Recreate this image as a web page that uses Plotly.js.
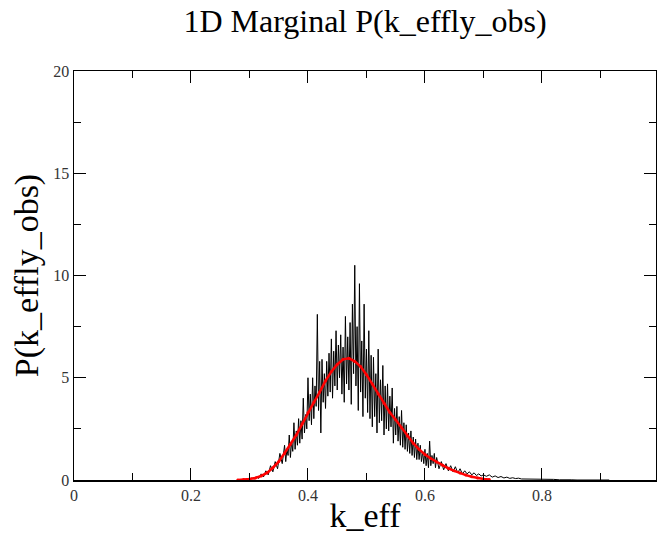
<!DOCTYPE html>
<html>
<head>
<meta charset="utf-8">
<script src="https://cdn.plot.ly/plotly-3.0.1.min.js"></script>
<style>html,body{margin:0;padding:0;background:#fff;}#chart{width:657px;height:537px;}</style>
</head>
<body>
<div id="chart"></div>
<script>
// Black noisy histogram: k_eff values and density
const histX = [0.284,0.288,0.292,0.296,0.300,0.304,0.308,0.312,0.316,0.320,0.324,0.328,0.332,0.336,0.340,0.344,0.348,0.352,0.356,
0.360,0.362,0.364,0.366,0.368,0.370,0.372,0.374,0.376,0.378,0.380,0.382,0.384,0.386,0.388,0.390,0.392,0.394,0.396,0.398,
0.400,0.402,0.404,0.406,0.408,0.410,0.412,0.414,0.416,0.418,0.420,0.422,0.424,0.426,0.428,0.430,0.432,0.434,0.436,0.438,
0.440,0.442,0.444,0.446,0.448,0.450,0.452,0.454,0.456,0.458,0.460,0.462,0.464,0.466,0.468,0.470,0.472,0.474,0.476,0.478,
0.480,0.482,0.484,0.486,0.488,0.490,0.492,0.494,0.496,0.498,0.500,0.502,0.504,0.506,0.508,0.510,0.512,0.514,0.516,0.518,
0.520,0.522,0.524,0.526,0.528,0.530,0.532,0.534,0.536,0.538,0.540,0.542,0.544,0.546,0.548,0.550,0.552,0.554,0.556,0.558,
0.560,0.562,0.564,0.566,0.568,0.570,0.572,0.574,0.576,0.578,0.580,0.582,0.584,0.586,0.588,0.590,0.592,0.594,0.596,0.598,
0.600,0.602,0.604,0.606,0.608,0.610,0.612,0.614,0.616,0.618,0.620,
0.624,0.628,0.632,0.636,0.640,0.644,0.648,0.652,0.656,0.660,0.664,0.668,0.672,0.676,0.680,0.684,0.688,0.692,0.696,0.700,
0.705,0.710,0.715,0.720,0.725,0.730,0.735,0.740,0.745,0.750,0.755,0.760,0.765,0.770,0.780,0.790,0.800,0.810,0.820,0.830,0.840,0.850,0.860,0.870,0.880,0.890,0.900,0.910,0.915,0.920];
const histY = [0.0,0.02,0.0,0.05,0.02,0.1,0.05,0.15,0.08,0.3,0.15,0.45,0.25,0.7,0.4,0.9,0.55,1.3,0.8,
1.7,0.9,1.5,1.2,2.2,1.1,1.9,1.4,2.8,1.5,2.4,1.7,3.0,1.8,2.9,2.0,4.0,2.3,3.2,2.5,
5.0,2.9,4.2,2.7,5.0,3.0,4.6,3.6,8.1,3.4,5.8,2.3,5.9,3.8,5.2,3.5,5.8,4.1,6.2,4.3,
6.9,4.0,6.3,4.6,7.3,4.4,6.6,5.0,7.1,4.2,6.5,3.8,8.0,4.7,7.0,4.4,7.7,3.7,8.6,5.2,
10.5,4.6,7.5,3.4,9.6,4.3,6.8,3.1,8.6,4.0,6.4,3.3,7.3,3.0,6.1,2.6,6.0,3.1,5.2,2.3,
6.4,2.8,4.9,2.9,5.6,2.2,4.6,2.5,4.7,2.4,4.1,2.6,4.5,1.8,3.5,2.2,3.6,1.9,3.1,1.7,
3.4,1.6,2.8,1.5,2.7,1.4,2.3,1.3,2.4,1.2,2.1,1.1,2.0,1.0,1.8,1.0,1.7,0.9,1.4,0.8,
1.5,0.7,1.3,0.6,1.9,0.7,1.2,0.8,1.3,0.6,1.1,
0.55,0.9,0.5,0.8,0.45,0.7,0.4,0.65,0.35,0.55,0.3,0.45,0.3,0.4,0.25,0.35,0.22,0.3,0.2,
0.25,0.18,0.25,0.14,0.2,0.12,0.17,0.1,0.14,0.08,0.11,0.07,0.09,0.05,0.05,0.04,0.03,0.03,0.02,0.03,0.01,0.02,0.01,0.0,0.0,0.0,0.0,0.0,0.03,0.0];

// Red smooth fit
const fitX = [0.28,0.29,0.30,0.31,0.32,0.33,0.34,0.35,0.36,0.37,0.38,0.39,0.40,0.41,0.42,0.43,0.44,0.45,0.46,0.47,0.48,0.49,0.50,0.51,0.52,0.53,0.54,0.55,0.56,0.57,0.58,0.59,0.60,0.61,0.62,0.63,0.64,0.65,0.66,0.67,0.68,0.69,0.70,0.71];
const fitY = [0.0,0.02,0.05,0.1,0.2,0.35,0.6,0.9,1.3,1.75,2.2,2.75,3.3,3.8,4.3,4.85,5.3,5.65,5.9,5.95,5.8,5.55,5.15,4.7,4.2,3.75,3.3,2.95,2.55,2.15,1.8,1.5,1.25,1.05,0.88,0.72,0.57,0.45,0.34,0.24,0.16,0.1,0.05,0.02];

const titleText = "1D Marginal P(k_effly_obs)";
const xTitle = "k_eff";
const yTitle = "P(k_effly_obs)";

const serif = "Liberation Serif";

const traces = [
  {x: histX, y: histY, type: 'scatter', mode: 'lines', line: {color: '#000', width: 1}, hoverinfo: 'none'},
  {x: fitX, y: fitY, type: 'scatter', mode: 'lines+markers', line: {color: '#ff0000', width: 2.5}, marker: {color: '#ff0000', size: 3}, hoverinfo: 'none'}
];

const axisCommon = {
  showline: true, linecolor: '#000', linewidth: 1.5, mirror: 'ticks',
  ticks: 'inside', ticklen: 12, tickwidth: 1, tickcolor: '#000',
  showgrid: false, zeroline: false,
  tickfont: {family: serif, size: 16, color: '#333'}
};

const layout = {
  width: 657, height: 537,
  margin: {l: 74, r: 1, t: 71, b: 57},
  paper_bgcolor: '#fff', plot_bgcolor: '#fff',
  showlegend: false,
  font: {family: serif},
  title: {text: titleText, font: {family: serif, size: 32, color: '#000'}, x: 0.5, xref: 'paper', y: 1 - 21/537, yref: 'container', yanchor: 'middle'},
  xaxis: Object.assign({}, axisCommon, {
    range: [0, 0.995], tickvals: [0, 0.2, 0.4, 0.6, 0.8], ticktext: ['0','0.2','0.4','0.6','0.8'],
    minor: {ticks: 'inside', ticklen: 7, tickvals: [0.1, 0.3, 0.5, 0.7, 0.9], tickcolor: '#000'},
    title: {text: xTitle, font: {family: serif, size: 34, color: '#000'}, standoff: 0}
  }),
  yaxis: Object.assign({}, axisCommon, {
    range: [0, 20], tickvals: [0, 5, 10, 15, 20],
    minor: {ticks: 'inside', ticklen: 7, tickvals: [2.5, 7.5, 12.5, 17.5], tickcolor: '#000'},
    title: {text: yTitle, font: {family: serif, size: 34, color: '#000'}, standoff: 4}
  })
};

Plotly.newPlot('chart', traces, layout, {staticPlot: true});
</script>
</body>
</html>
